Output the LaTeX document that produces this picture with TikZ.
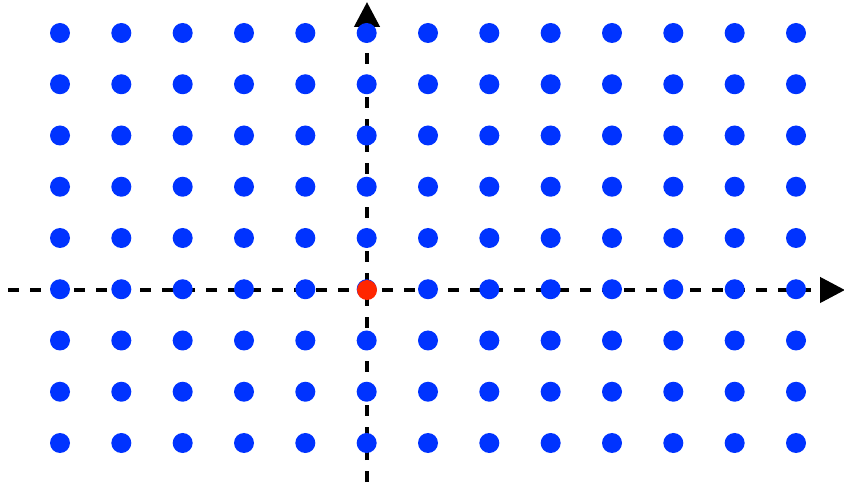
\documentclass[tikz,border=0pt]{standalone}
\usetikzlibrary{arrows.meta}
\definecolor{dotblue}{RGB}{0,51,255}
\definecolor{dotred}{RGB}{255,38,0}
\tikzset{
  axis/.style={line width=4.5pt, dash pattern=on 11pt off 11pt, -{Triangle[length=25pt,width=25pt]}},
  gdot/.style={circle, fill=dotblue, minimum size=20pt, inner sep=0pt},
  odot/.style={circle, fill=dotred, minimum size=20pt, inner sep=0pt}
}
\begin{document}
\begin{tikzpicture}[x=1pt,y=-1pt]
\useasboundingbox (0,0) rectangle (844,486);
\coordinate (xs) at (8,290);
\coordinate (xe) at (845,290);
\coordinate (ys) at (367,482);
\coordinate (ye) at (367,2);
\draw[axis] (xs) -- (xe);
\draw[axis] (ys) -- (ye);
\foreach \i in {0,...,12}{
  \foreach \j in {0,...,8}{
    \node[gdot] (d-\i-\j) at ({60+61.333*\i},{33+51.25*\j}) {};
  }
}
\node[odot] (origin) at (367,290) {};
\end{tikzpicture}
\end{document}
